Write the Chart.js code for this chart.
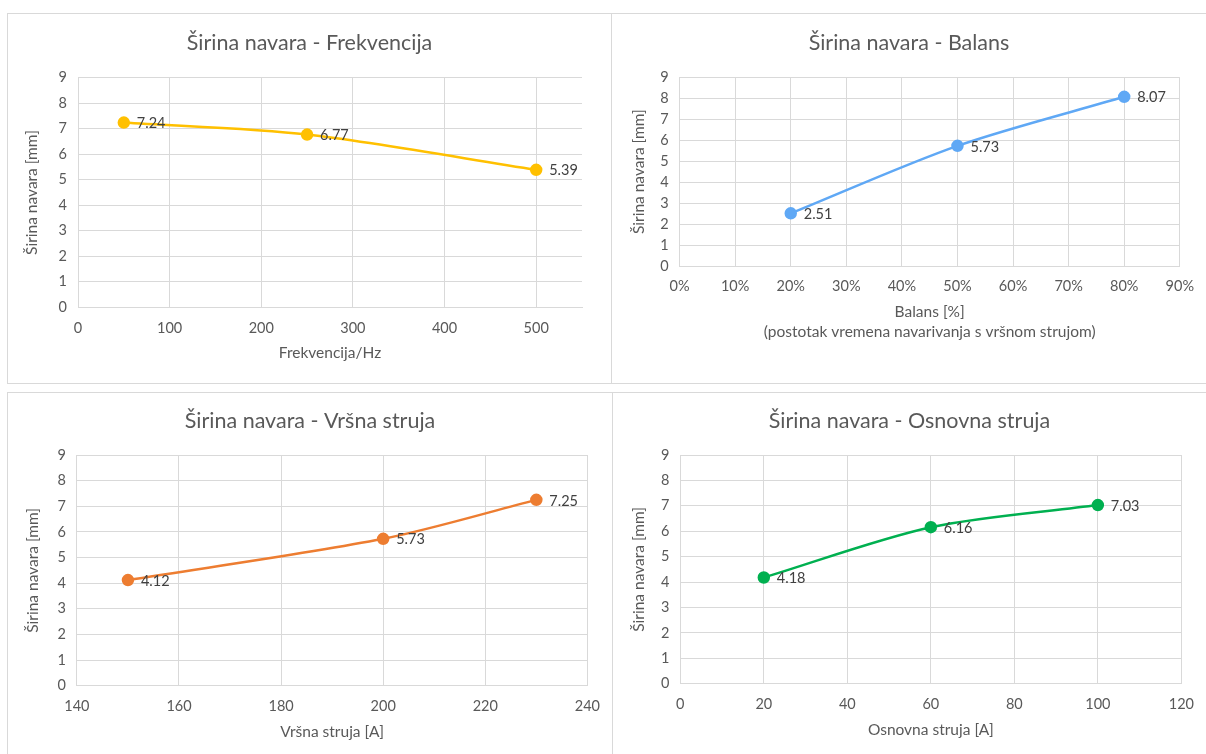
<!DOCTYPE html>
<html>
<head>
<meta charset="utf-8">
<script src="https://cdn.jsdelivr.net/npm/chart.js@4.4.1/dist/chart.umd.min.js"></script>
<style>
  body { margin: 0; width: 1206px; height: 754px; overflow: hidden; background: #fff; }
  .panel { position: absolute; border: 1px solid #d9d9d9; box-sizing: border-box; background: #fff; }
  .panel canvas { position: absolute; left: 0; top: 0; }
</style>
</head>
<body>
<div class="panel" style="left:7px;top:13px;width:605px;height:371px"><canvas id="frek" width="603" height="369"></canvas></div>
<div class="panel" style="left:611px;top:13px;width:596px;height:371px"><canvas id="balans" width="594" height="369"></canvas></div>
<div class="panel" style="left:7px;top:392px;width:606px;height:363px"><canvas id="vrsna" width="604" height="361"></canvas></div>
<div class="panel" style="left:612px;top:392px;width:595px;height:363px"><canvas id="osnovna" width="593" height="361"></canvas></div>
<script>
const freqHz = [50, 250, 500];
const widthFreq = [7.24, 6.77, 5.39];

const balansPct = [20, 50, 80];
const widthBalans = [2.51, 5.73, 8.07];

const vrsnaA = [150, 200, 230];
const widthVrsna = [4.12, 5.73, 7.25];

const osnovnaA = [20, 60, 100];
const widthOsnovna = [4.18, 6.16, 7.03];

const yTicks = [0, 9, 1]; // min, max, step

const FONT = "Lato, 'Open Sans', sans-serif";
const TXT = "#595959";
const GRID = "#d9d9d9";
const TITLE_SIZE = 21.5;
const TITLE_LH = TITLE_SIZE * 1.2;

// value labels to the right of each point
const pointLabels = {
  id: "pointLabels",
  afterDatasetsDraw(chart) {
    const ctx = chart.ctx;
    ctx.save();
    ctx.font = "14.5px " + FONT;
    ctx.fillStyle = "#404040";
    ctx.textBaseline = "middle";
    chart.getDatasetMeta(0).data.forEach((pt, i) => {
      const v = chart.data.datasets[0].data[i].y;
      ctx.fillText(v.toFixed(2), pt.x + 13, pt.y + 1);
    });
    ctx.restore();
  },
};

function makeChart(id, xs, ys, color, title, xTitle, xRange, xFmt, box) {
  const lines = Array.isArray(xTitle) ? xTitle.length : 1;
  const xlh = lines > 1 ? 20 : 18;
  new Chart(document.getElementById(id), {
    type: "line",
    data: {
      datasets: [
        {
          data: xs.map((x, i) => ({ x: x, y: ys[i] })),
          borderColor: color,
          backgroundColor: color,
          borderWidth: 2.5,
          pointRadius: 5,
          pointHoverRadius: 5,
          tension: 0.3,
        },
      ],
    },
    options: {
      responsive: false,
      animation: false,
      layout: { padding: 0 },
      plugins: {
        legend: { display: false },
        tooltip: { enabled: false },
        title: {
          display: true,
          text: title,
          color: TXT,
          font: { family: FONT, size: TITLE_SIZE, weight: "normal", lineHeight: 1.2 },
          padding: { top: box.titleY - TITLE_LH / 2, bottom: box.t - box.titleY - TITLE_LH / 2 },
        },
      },
      scales: {
        x: {
          type: "linear",
          min: xRange[0],
          max: xRange[1],
          afterFit: (s) => { s.height = box.h - box.b; },
          ticks: {
            stepSize: xRange[2],
            includeBounds: false,
            color: TXT,
            padding: 12,
            font: { family: FONT, size: 14.5 },
            callback: xFmt,
          },
          grid: { color: GRID, drawTicks: false },
          border: { color: GRID },
          title: {
            display: true,
            text: xTitle,
            color: TXT,
            font: { family: FONT, size: 15.5, lineHeight: xlh + "px" },
            padding: { top: 0, bottom: box.h - box.xTitleY - xlh / 2 - xlh * (lines - 1) },
          },
        },
        y: {
          min: yTicks[0],
          max: yTicks[1],
          afterFit: (s) => { s.width = box.l; },
          ticks: {
            stepSize: yTicks[2],
            color: TXT,
            padding: 11,
            font: { family: FONT, size: 14.5 },
          },
          grid: { color: GRID, drawTicks: false },
          border: { color: GRID },
          title: {
            display: true,
            text: "Širina navara [mm]",
            color: TXT,
            font: { family: FONT, size: 15.5, lineHeight: "18px" },
            padding: { top: box.yTitleX - 9, bottom: 0 },
          },
        },
        pad: {
          position: "right",
          afterFit: (s) => { s.width = box.w - box.r; },
          ticks: { display: false },
          grid: { display: false },
          border: { display: false },
        },
      },
    },
    plugins: [pointLabels],
  });
}

makeChart("frek", freqHz, widthFreq, "#FFC000",
  "Širina navara - Frekvencija", "Frekvencija/Hz", [0, 550, 100], (v) => v,
  { w: 603, h: 369, l: 70, r: 574, t: 63.7, b: 293.3, titleY: 29.3, yTitleX: 23.5, xTitleY: 339.3 });

makeChart("balans", balansPct, widthBalans, "#5FA8F5",
  "Širina navara - Balans",
  ["Balans [%]", "(postotak vremena navarivanja s vršnom strujom)"],
  [0, 90, 10], (v) => v + "%",
  { w: 594, h: 369, l: 67.6, r: 572.7, t: 63.3, b: 252, titleY: 29.3, yTitleX: 26.5, xTitleY: 297.7 });

makeChart("vrsna", vrsnaA, widthVrsna, "#ED7D31",
  "Širina navara - Vršna struja", "Vršna struja [A]", [140, 240, 20], (v) => v,
  { w: 604, h: 361, l: 68.9, r: 579.4, t: 62, b: 292.7, titleY: 27.7, yTitleX: 25, xTitleY: 338.7 });

makeChart("osnovna", osnovnaA, widthOsnovna, "#00B050",
  "Širina navara - Osnovna struja", "Osnovna struja [A]", [0, 120, 20], (v) => v,
  { w: 593, h: 361, l: 67.3, r: 573.6, t: 62, b: 290.7, titleY: 27.7, yTitleX: 25.5, xTitleY: 337 });
</script>
</body>
</html>
